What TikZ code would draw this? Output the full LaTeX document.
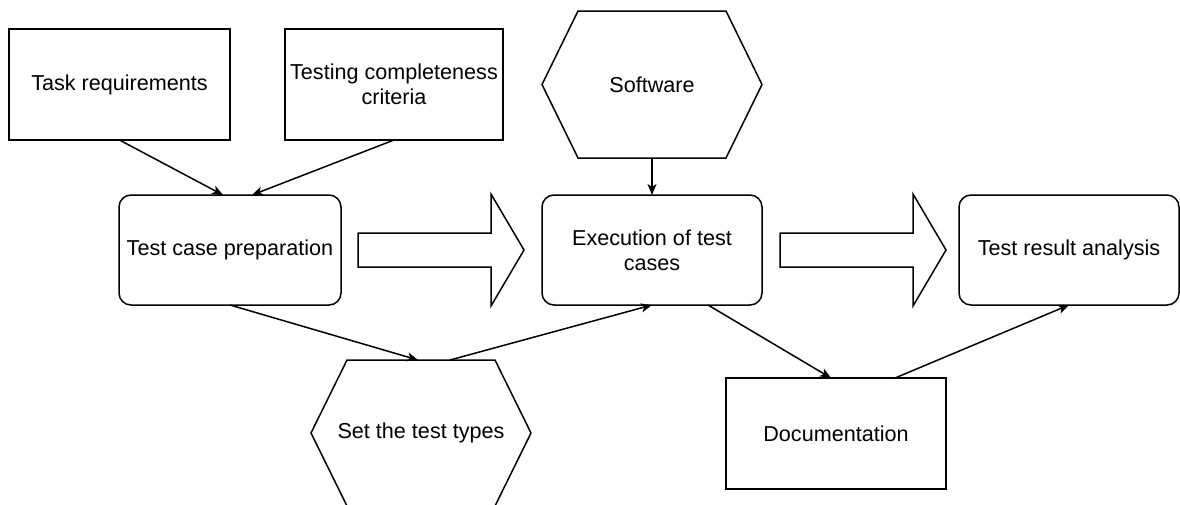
\documentclass[tikz,border=0pt]{standalone}
\usepackage{fontspec}
\setmainfont{Liberation Sans}
\usetikzlibrary{arrows.meta}

% hexagon round a plain node
\newcommand\hexframe[1]{%
  \draw (#1.west) -- ([xshift=36pt]#1.north west) -- ([xshift=-36pt]#1.north east)
     -- (#1.east) -- ([xshift=-36pt]#1.south east) -- ([xshift=36pt]#1.south west) -- cycle;}

% wide hollow arrow between two stages
\newcommand\blockarrow[1]{%
  \draw (#1) ++(0,-17) -- ++(133,0) -- ++(0,-39) -- ++(33,56) -- ++(-33,56)
     -- ++(0,-39) -- ++(-133,0) -- cycle;}

\begin{document}
\begin{tikzpicture}[x=1pt, y=-1pt, line width=1.5pt]
\tikzset{ >={Stealth[length=11pt,width=9pt,inset=3pt]}, inner sep=0pt, outer sep=0pt,
  every node/.style={font=\fontsize{21.6}{25}\selectfont, align=center},
  inbox/.style={draw, minimum width=220pt, minimum height=111pt},
  stagebox/.style={draw, rounded corners=12pt, minimum width=220pt, minimum height=110pt},
  hexnode/.style={minimum width=220pt, minimum height=147pt},
}

\useasboundingbox (0,0) rectangle (1180,504);

%\draw [lightgray, dashed](0,0) grid [step=50pt] (1180,504);

\node [inbox, minimum width=221pt] (task) at (119.5,84.5) {Task requirements};
\node [inbox, minimum width=218pt] (crit) at (394.0,84.5) {Testing completeness\\criteria};
\node [hexnode] (soft) at (652,84.5) {Software};
\hexframe{soft}

\node [stagebox, minimum width=222pt] (prep) at ( 230,250) {Test case preparation};
\node [stagebox] (exec) at ( 652,250) {Execution of test\\cases};
\node [stagebox] (tra)  at (1069,250) {Test result analysis};

\node [hexnode, minimum height=146pt] (types) at (421,433) {Set the test types};
\hexframe{types}
\node [inbox] (doc) at (836,433.5) {Documentation};

\blockarrow{[xshift=17pt]prep.east}
\blockarrow{[xshift=18pt]exec.east}

\draw [->] (task.south) -- ([xshift=-7pt]prep.north);
\draw [->] (crit.south) -- ([xshift=22pt]prep.north);
\draw [->] (soft.south) -- (exec.north);

\draw [->] (prep.south) -- ([xshift=-3pt]types.north);
\draw [->] ([xshift=29pt]types.north) -- (exec.south);
\draw [->] ([xshift=56pt]exec.south) -- ([xshift=-5pt]doc.north);
\draw [->] ([xshift=59pt]doc.north) -- (tra.south);

\end{tikzpicture}
\end{document}
